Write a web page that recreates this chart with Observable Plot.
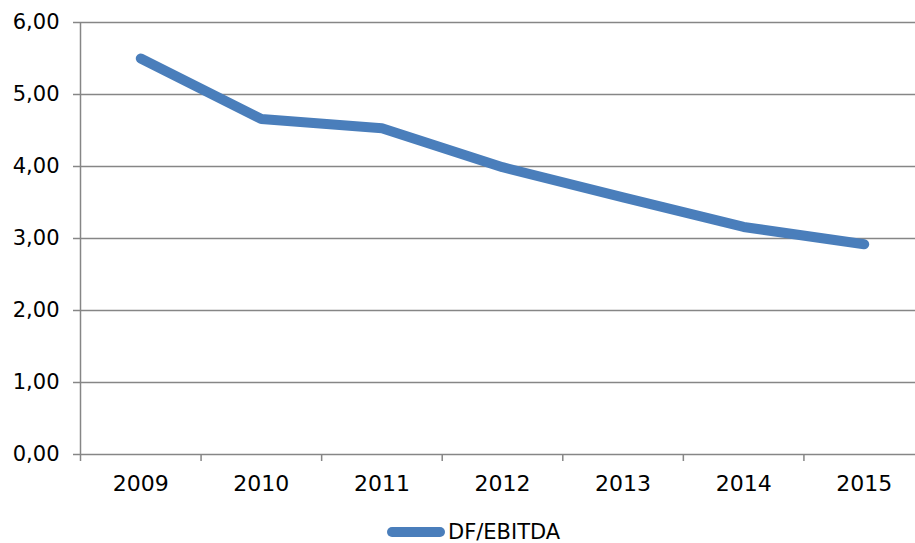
<!DOCTYPE html>
<html>
<head>
<meta charset="utf-8">
<script src="https://cdn.jsdelivr.net/npm/d3@7"></script>
<script src="https://cdn.jsdelivr.net/npm/@observablehq/plot@0.6"></script>
<style>
  html, body { margin: 0; padding: 0; background: #fff; overflow: hidden; }
  #wrap { width: 915px; height: 543px; position: relative; overflow: hidden; }
  #legend { position: absolute; left: 387px; top: 521px; height: 22px; line-height: 22px; display: flex; align-items: center;
    white-space: nowrap; font-family: "DejaVu Sans", Verdana, sans-serif; font-size: 21px; color: #000; }
  #legend .sw { display: inline-block; width: 58px; height: 10px; border-radius: 5px; background: #4a7ebb; margin-right: 3px; }
</style>
</head>
<body>
<div id="wrap"><div id="chart"></div><div id="legend"><span class="sw"></span><span>DF/EBITDA</span></div></div>
<script>
const years = ["2009", "2010", "2011", "2012", "2013", "2014", "2015"];
const values = [5.50, 4.66, 4.53, 3.99, 3.57, 3.16, 2.92];
const yTicks = [0, 1, 2, 3, 4, 5, 6];
const seriesName = "DF/EBITDA";

const data = years.map((y, i) => ({pos: i + 0.5, year: y, value: values[i]}));
const boundaries = d3.range(years.length + 1);
const fmt = d => d.toFixed(2).replace(".", ",");

const chart = Plot.plot({
  width: 915,
  height: 505,
  marginLeft: 80,
  marginTop: 22,
  marginBottom: 51,
  marginRight: 0,
  style: { fontFamily: "DejaVu Sans, Verdana, sans-serif", fontSize: "21px", color: "#000", background: "#fff", overflow: "hidden" },
  x: { domain: [0, years.length], range: [80, 924] },
  y: { domain: [0, 6], range: [454, 22] },
  marks: [
    Plot.ruleY(yTicks, { x1: 0, x2: years.length, stroke: "#868686", strokeWidth: 1.5 }),
    Plot.ruleX([0], { y1: 0, y2: 6, stroke: "#868686", strokeWidth: 1.5 }),
    Plot.axisY(yTicks, { tickSize: 7, tickPadding: 14, tickFormat: fmt, stroke: "#868686", strokeWidth: 1.5, label: null, fill: "#000", fontSize: 21 }),
    Plot.axisX(boundaries, { tickSize: 7, tickFormat: () => "", stroke: "#868686", strokeWidth: 1.5, label: null }),
    Plot.text(data, { x: "pos", y: 0, text: "year", dy: 29, fill: "#000", fontSize: 22 }),
    Plot.line(data, { x: "pos", y: "value", stroke: "#4a7ebb", strokeWidth: 10, strokeLinecap: "round", strokeLinejoin: "round" })
  ]
});
document.getElementById("chart").appendChild(chart);
</script>
</body>
</html>
